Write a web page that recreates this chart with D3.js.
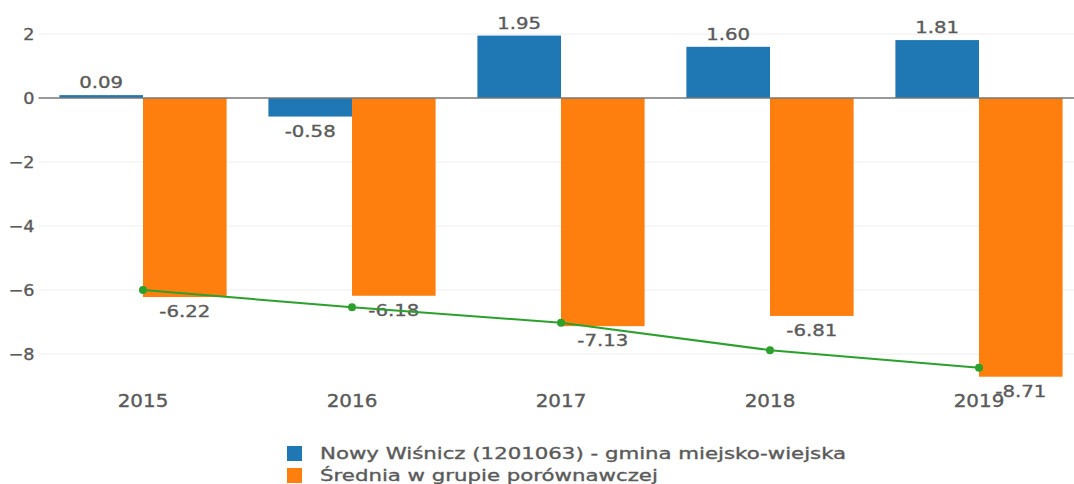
<!DOCTYPE html>
<html>
<head>
<meta charset="utf-8">
<script src="https://cdn.jsdelivr.net/npm/d3@7"></script>
<style>
  body { margin: 0; background: #fff; }
  text { font-family: "DejaVu Sans", Verdana, sans-serif; fill: #5a5a5a; stroke: #5a5a5a; stroke-width: 0.35px; }
</style>
</head>
<body>
<div id="chart-area"></div>
<script>
var years = ["2015", "2016", "2017", "2018", "2019"];
var gmina = [0.09, -0.58, 1.95, 1.60, 1.81];
var srednia = [-6.22, -6.18, -7.13, -6.81, -8.71];
var trend = [-6.0, -6.54, -7.02, -7.88, -8.43];
var yTicks = [2, 0, -2, -4, -6, -8];
var legendNames = ["Nowy Wiśnicz (1201063) - gmina miejsko-wiejska", "Średnia w grupie porównawczej"];
var colors = ["#1f77b4", "#ff7f0e", "#2ca02c"];

var W = 1074, H = 484;
var left = 38.5, right = 1083.5;

// the source picture is a bit wider than tall, so stretch text glyphs sideways
function stretch(sel, k) {
        sel.each(function () {
                var len = this.getComputedTextLength();
                d3.select(this)
                        .attr("textLength", len * k)
                        .attr("lengthAdjust", "spacingAndGlyphs");
        });
}

var svg = d3.select("#chart-area")
        .append("svg")
                .attr("width", W)
                .attr("height", H);

var x = d3.scaleBand()
        .domain(years)
        .range([left, right])
        .paddingInner(0.2)
        .paddingOuter(0.1);

var x1 = d3.scaleBand()
        .domain([0, 1])
        .range([0, x.bandwidth()]);

var y = d3.scaleLinear()
        .domain([3, -9])
        .range([2, 386]);

// grid
svg.append("g")
        .selectAll("line")
        .data(yTicks.filter(d => d !== 0))
        .enter()
        .append("line")
        .attr("x1", left)
        .attr("x2", W)
        .attr("y1", d => y(d))
        .attr("y2", d => y(d))
        .attr("stroke", "#eee")
        .attr("stroke-width", 1);

var yAxisCall = d3.axisLeft(y)
        .tickValues(yTicks)
        .tickSize(0)
        .tickPadding(4)
        .tickFormat(d => d < 0 ? "\u2212" + Math.abs(d) : d);
var yAxis = svg.append("g")
        .attr("class", "y-axis")
        .attr("transform", "translate(" + left + ",0)")
        .call(yAxisCall);
yAxis.select(".domain").remove();
yAxis.selectAll("text")
        .attr("font-size", "16px")
        .style("font-family", "DejaVu Sans, Verdana, sans-serif")
        .call(stretch, 1.1);

var xAxisCall = d3.axisBottom(x).tickSize(0).tickPadding(0);
var xAxis = svg.append("g")
        .attr("class", "x-axis")
        .attr("transform", "translate(0,395)")
        .call(xAxisCall);
xAxis.select(".domain").remove();
xAxis.selectAll("text")
        .attr("font-size", "17px")
        .style("font-family", "DejaVu Sans, Verdana, sans-serif")
        .call(stretch, 1.17);

var groups = svg.selectAll(".grp")
        .data(years)
        .enter()
        .append("g")
        .attr("class", "grp")
        .attr("transform", d => "translate(" + x(d) + ",0)");

[gmina, srednia].forEach(function (series, s) {
        groups.append("rect")
                .attr("x", x1(s))
                .attr("width", x1.bandwidth())
                .attr("y", (d, i) => y(Math.max(0, series[i])))
                .attr("height", (d, i) => Math.abs(y(series[i]) - y(0)))
                .attr("fill", colors[s]);
        groups.append("text")
                .attr("x", x1(s) + x1.bandwidth() / 2)
                .attr("y", (d, i) => series[i] >= 0 ? y(series[i]) - 7 : y(series[i]) + 20)
                .attr("text-anchor", "middle")
                .attr("font-size", "16px")
                .text((d, i) => series[i].toFixed(2))
                .call(stretch, 1.23);
});

// zero line
svg.append("line")
        .attr("x1", left)
        .attr("x2", W)
        .attr("y1", y(0))
        .attr("y2", y(0))
        .attr("stroke", "#777")
        .attr("stroke-width", 1.5);

// trend line at category centres
var line = d3.line()
        .x((d, i) => x(years[i]) + x.bandwidth() / 2)
        .y(d => y(d));
svg.append("path")
        .datum(trend)
        .attr("d", line)
        .attr("fill", "none")
        .attr("stroke", colors[2])
        .attr("stroke-width", 2);
svg.selectAll(".pt")
        .data(trend)
        .enter()
        .append("circle")
        .attr("class", "pt")
        .attr("cx", (d, i) => x(years[i]) + x.bandwidth() / 2)
        .attr("cy", d => y(d))
        .attr("r", 4)
        .attr("fill", colors[2]);

// legend
var legend = svg.append("g").attr("transform", "translate(287,446)");
legendNames.forEach(function (name, i) {
        legend.append("rect")
                .attr("x", 0)
                .attr("y", i * 22)
                .attr("width", 15)
                .attr("height", 15)
                .attr("fill", colors[i]);
        legend.append("text")
                .attr("x", 33)
                .attr("y", i * 22 + 13)
                .attr("font-size", "16px")
                .text(name)
                .call(stretch, 1.33);
});
</script>
</body>
</html>
